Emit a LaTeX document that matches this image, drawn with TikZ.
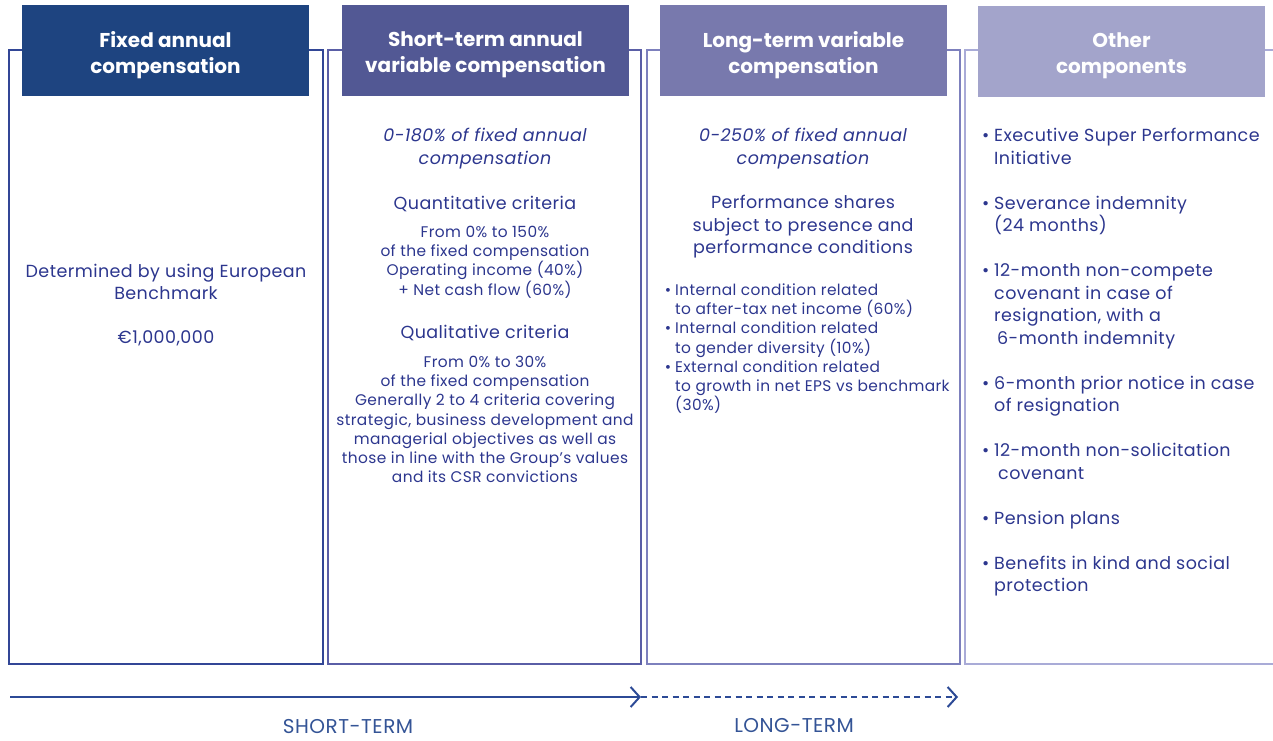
\documentclass[tikz,border=0pt]{standalone}
\usepackage{fontspec}
\setmainfont{Poppins}[LetterSpace=2.5]
\newfontfamily\hdrfont{Poppins}
\usetikzlibrary{
    arrows.meta,
    positioning
}
\definecolor{hdrA}{RGB}{30,68,128}
\definecolor{hdrB}{RGB}{82,88,148}
\definecolor{hdrC}{RGB}{120,121,173}
\definecolor{hdrD}{RGB}{163,164,203}
\definecolor{edgeA}{RGB}{50,70,150}
\definecolor{edgeB}{RGB}{90,94,166}
\definecolor{edgeC}{RGB}{125,128,189}
\definecolor{edgeD}{RGB}{169,171,215}
\definecolor{txt}{RGB}{44,54,142}
\definecolor{timeln}{RGB}{44,74,150}
\definecolor{tlbltxt}{RGB}{52,84,150}
\newcommand{\bul}{\llap{\textbullet\hspace{5pt}}}
\newcommand{\sbul}{\llap{\textbullet\hspace{4pt}}}

\begin{document}
\begin{tikzpicture}[
  x=1pt, y=-1pt,
  col/.style={
    draw, line width=1.4pt, minimum width=313pt,
    minimum height=614pt},
  hdr/.style={
    minimum width=287pt, minimum height=91pt},
  hdrtxt/.style={
    text=white, align=center,
    font=\hdrfont\fontsize{20}{26}\selectfont\bfseries},
  body/.style={
    text=txt, align=center,
    font=\fontsize{17.5}{22.5}\selectfont},
  small/.style={
    text=txt, align=center,
    font=\fontsize{15.4}{19.2}\selectfont},
  itm/.style={
    text=txt, align=left, anchor=north west, inner sep=0pt,
    font=\fontsize{17.5}{22.5}\selectfont},
  sitm/.style={
    text=txt, align=left, anchor=north west, inner sep=0pt,
    font=\fontsize{15.4}{19.2}\selectfont},
  tl/.style={-{Straight Barb[length=9pt, width=20pt, line width=2pt]},
    line width=2.2pt, timeln},
  tlbl/.style={text=tlbltxt, font=\fontsize{20}{22}\selectfont}
]
\useasboundingbox (0,0) rectangle (1273,740);

%% columns
\node[col, draw=edgeA, minimum width=314pt] (colA) at (166,357)   {};
\node[col, draw=edgeB]                      (colB) at (484.5,357) {};
\node[col, draw=edgeC]                      (colC) at (803.5,357) {};
\node[col, draw=edgeD, minimum width=316pt] (colD) at (1123,357)  {};

%% headers
\node[hdr, fill=hdrA] (hA) at (165.5,50.5)  {};
\node[hdr, fill=hdrB] (hB) at (485.5,50.5)  {};
\node[hdr, fill=hdrC] (hC) at (803.5,50.5)  {};
\node[hdr, fill=hdrD] (hD) at (1121.5,51.5) {};
\node[hdrtxt] (hAt) at ([yshift=-4.5pt]hA.center) {Fixed annual\\compensation};
\node[hdrtxt] (hBt) at ([yshift=-4.5pt]hB.center) {Short-term annual\\variable compensation};
\node[hdrtxt] (hCt) at ([yshift=-4.5pt]hC.center) {Long-term variable\\compensation};
\node[hdrtxt] (hDt) at ([yshift=-4.5pt]hD.center) {Other\\components};

%% fixed
\node[body] (fixTxt) at (166,282) {Determined by using European\\Benchmark};
\node[body] (fixAmt) at (166,338) {€1,000,000};

%% short-term
\node[body, font=\fontsize{17.5}{23}\selectfont\itshape] (stPct) at (485,148.5)
  {0-180\% of fixed annual\\compensation};
\node[body] (stQn) at (485,204) {Quantitative criteria};
\node[small] (stQnTxt) at (485,262)
  {From 0\% to 150\%\\of the fixed compensation\\Operating income (40\%)\\+ Net cash flow (60\%)};
\node[body] (stQl) at (485,333) {Qualitative criteria};
\node[small] (stQlTxt) at (485,419.5)
  {From 0\% to 30\%\\of the fixed compensation\\Generally 2 to 4 criteria covering\\
   strategic, business development and\\managerial objectives as well as\\
   those in line with the Group's values\\and its CSR convictions};

%% long-term
\node[body, font=\fontsize{17.5}{23}\selectfont\itshape] (ltPct) at (803,148.5)
  {0-250\% of fixed annual\\compensation};
\node[body] (ltPs) at (803,227)
  {Performance shares\\subject to presence and\\performance conditions};
\node[sitm] (ltCond) at (675,283.5)
  {\sbul Internal condition related\\to after-tax net income (60\%)\\
   \sbul Internal condition related\\to gender diversity (10\%)\\
   \sbul External condition related\\to growth in net EPS vs benchmark\\(30\%)};

%% other
\node[itm] (oth) at (994,128)
  {\bul Executive Super Performance\\Initiative\\[22.5pt]
   \bul Severance indemnity\\(24 months)\\[22.5pt]
   \bul 12-month non-compete\\covenant in case of\\resignation, with a\\\hspace{3pt}6-month indemnity\\[22.5pt]
   \bul 6-month prior notice in case\\of resignation\\[22.5pt]
   \bul 12-month non-solicitation\\\hspace{4pt}covenant\\[22.5pt]
   \bul Pension plans\\[22.5pt]
   \bul Benefits in kind and social\\protection};

%% time line
\coordinate (tStart) at (10,697);
\coordinate (tMid)   at (641,697);
\coordinate (tEnd)   at (958,697);
\draw[tl] (tStart) -- (tMid);
\draw[tl, dash pattern=on 6pt off 4.5pt] (tMid) -- (tEnd);
\node[tlbl] (shortLbl) at (348,726) {SHORT-TERM};
\node[tlbl] (longLbl)  at (794,726) {LONG-TERM};

\end{tikzpicture}
\end{document}
